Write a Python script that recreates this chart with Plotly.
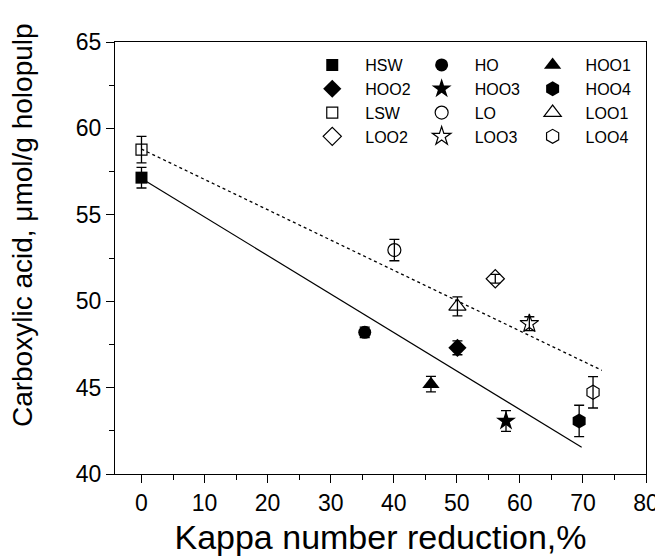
import plotly.graph_objects as go

# Data
names = ["HSW", "HO", "HOO1", "HOO2", "HOO3", "HOO4",
         "LSW", "LO", "LOO1", "LOO2", "LOO3", "LOO4"]
kappa_red = [0.0, 35.4, 45.9, 50.1, 57.8, 69.4,
             0.0, 40.1, 50.1, 56.1, 61.5, 71.6]
carboxyl = [57.15, 48.2, 45.2, 47.3, 43.07, 43.07,
            58.77, 52.96, 49.7, 51.3, 48.7, 44.73]
err = [0.6, 0.3, 0.45, 0.4, 0.6, 0.91,
       0.77, 0.62, 0.55, 0.25, 0.4, 0.91]
symbols = ["square", "circle", "triangle-up", "diamond", "star", "hexagon",
           "square-open", "circle-open", "triangle-up-open", "diamond-open",
           "star-open", "hexagon-open"]
sizes = [12, 13, 15, 14, 15, 15, 11, 13, 15, 14, 14, 14]

# Fitted trend lines (endpoints)
fit_h_x = [0.0, 69.8]
fit_h_y = [57.1, 41.55]
fit_l_x = [0.0, 73.0]
fit_l_y = [58.8, 46.0]

x_ticks = [0, 10, 20, 30, 40, 50, 60, 70, 80]
y_ticks = [40, 45, 50, 55, 60, 65]

font_family = "Arial, 'Liberation Sans', sans-serif"
legend_ids = ["legend", "legend2", "legend3"]

fig = go.Figure()

fig.add_trace(go.Scatter(x=fit_h_x, y=fit_h_y, mode="lines",
                         line=dict(color="black", width=1.2),
                         showlegend=False, hoverinfo="skip"))
fig.add_trace(go.Scatter(x=fit_l_x, y=fit_l_y, mode="lines",
                         line=dict(color="black", width=1.3, dash="dot"),
                         showlegend=False, hoverinfo="skip"))

for i, (n, xv, yv, e, s, sz) in enumerate(zip(names, kappa_red, carboxyl, err, symbols, sizes)):
    is_open = s.endswith("-open")
    fig.add_trace(go.Scatter(
        x=[xv], y=[yv], name=n, mode="markers",
        legend=legend_ids[i % 3],
        marker=dict(symbol=s, size=sz, color="black",
                    line=dict(color="black", width=1.2 if is_open else 0)),
        error_y=dict(type="data", array=[e], visible=True,
                     color="black", thickness=1.3, width=5),
    ))

leg_common = dict(orientation="v", yanchor="top", xanchor="left", y=0.986,
                  font=dict(size=16), itemwidth=56, bgcolor="rgba(0,0,0,0)",
                  traceorder="normal", borderwidth=0)

fig.update_layout(
    width=663, height=560,
    margin=dict(l=107, r=23, t=34, b=94),
    paper_bgcolor="white", plot_bgcolor="white",
    font=dict(family=font_family, color="black", size=18),
    legend=dict(x=0.347, **leg_common),
    legend2=dict(x=0.553, **leg_common),
    legend3=dict(x=0.762, **leg_common),
    showlegend=True,
    annotations=[dict(text="Carboxylic acid, μmol/g holopulp", textangle=-90,
                      xref="paper", yref="paper", x=-0.1745, y=0.577,
                      xanchor="center", yanchor="middle", showarrow=False,
                      font=dict(size=28))],
)

fig.update_xaxes(
    range=[-4.2, 80], tickvals=x_ticks, ticktext=[str(v) for v in x_ticks],
    ticks="outside", ticklen=8, tickwidth=1.3, tickcolor="black",
    showline=True, linecolor="black", linewidth=1.3, mirror=True,
    showgrid=False, zeroline=False,
    minor=dict(ticks="outside", ticklen=5, tickwidth=1.3, dtick=5, tickcolor="black"),
    tickfont=dict(size=23),
    title=dict(text="Kappa number reduction,%", font=dict(size=34), standoff=10),
)
fig.update_yaxes(
    range=[40, 65], tickvals=y_ticks, ticktext=[str(v) for v in y_ticks],
    ticks="outside", ticklen=8, tickwidth=1.3, tickcolor="black",
    showline=True, linecolor="black", linewidth=1.3, mirror=True,
    showgrid=False, zeroline=False,
    minor=dict(ticks="outside", ticklen=5, tickwidth=1.3, dtick=2.5, tickcolor="black"),
    tickfont=dict(size=23),
)

fig.write_html("out.html")
